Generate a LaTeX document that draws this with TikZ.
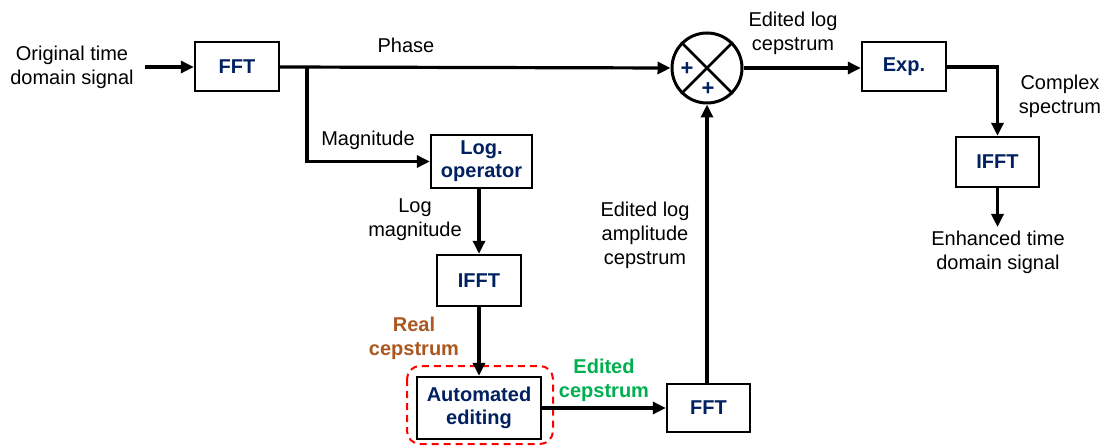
\documentclass[tikz,border=0pt]{standalone}
\usepackage{fontspec}
\setmainfont{Liberation Sans}
\usetikzlibrary{arrows.meta}
\definecolor{navy}{RGB}{0,32,96}
\definecolor{brownlbl}{RGB}{170,88,32}
\definecolor{greenlbl}{RGB}{0,176,80}
\tikzset{
  blk/.style={draw=black, line width=2.4pt, fill=white, inner sep=0pt,
    font=\fontsize{20}{23}\selectfont\bfseries, text=navy, align=center},
  lbl/.style={inner sep=0pt, align=center, font=\fontsize{20}{24}\selectfont},
  conn/.style={line width=3.2pt},
  arr/.style={conn, -{Triangle[length=13pt,width=12pt]}},
  plus/.style={text=navy, inner sep=0pt, font=\fontsize{22}{22}\selectfont\bfseries},
}
\begin{document}
\begin{tikzpicture}[x=1pt,y=-1pt]
\useasboundingbox (0,0) rectangle (1105,446);

% blocks
\node[blk, minimum width=84pt, minimum height=49pt] (fft1) at (237,66.5) {FFT};
\node[blk, minimum width=101pt, minimum height=53pt] (logop) at (481.5,161.5) {Log.\\operator};
\node[blk, minimum width=84pt, minimum height=51pt] (ifft1) at (479,280.5) {IFFT};
\node[blk, minimum width=124pt, minimum height=62pt] (auto) at (479,408) {Automated\\editing};
\node[blk, minimum width=83pt, minimum height=48pt] (fft2) at (708.5,408) {FFT};
\node[blk, minimum width=84pt, minimum height=49pt] (exp) at (904,66.5) {Exp.};
\node[blk, minimum width=83pt, minimum height=50pt] (ifft2) at (997.5,162) {IFFT};

% summing junction
\node[draw, circle, line width=3pt, minimum size=70pt, inner sep=0pt] (sum) at (707,68) {};
\draw[line width=2.6pt] (sum.north west) -- (sum.south east);
\draw[line width=2.6pt] (sum.north east) -- (sum.south west);
\node[plus] (plusa) at (687,69) {+};
\node[plus] (plusb) at (708,89) {+};

% highlighted editing stage
\draw[red, line width=2pt, dash pattern=on 7pt off 5pt, rounded corners=13pt]
  (407,366) rectangle (553,444);

% free ends
\coordinate (in) at (145,67);
\coordinate (split) at (307,67);
\coordinate (turn) at (997.5,67);
\coordinate (out) at (997.5,227);

% connectors
\draw[arr] (in) -- (fft1.west |- in);
\draw[arr] (fft1.east |- split) -- (sum.west);
\draw[arr] (split) |- (logop.west);
\draw[arr] (logop.south -| ifft1.north) -- (ifft1.north);
\draw[arr, line width=3.8pt] (ifft1.south) -- (auto.north);
\draw[arr] (auto.east) -- (fft2.west);
\draw[arr] (fft2.north -| sum.south) -- (sum.south);
\draw[arr] (sum.east) -- (exp.west |- sum.east);
\draw[arr] (exp.east |- turn) -| (ifft2.north);
\draw[arr] (ifft2.south) -- (out);

% labels
\node[lbl] (lorig) at (72,67) {Original time\\domain signal};
\node[lbl] (lphase) at (406,45) {Phase};
\node[lbl] (lmag) at (368,140) {Magnitude};
\node[lbl] (llogmag) at (415,220) {Log\\magnitude};
\node[lbl, text=brownlbl, font=\fontsize{20}{24}\selectfont\bfseries] (lreal) at (414,338) {Real\\cepstrum};
\node[lbl, text=greenlbl, font=\fontsize{20}{24}\selectfont\bfseries] (ledc) at (604,380) {Edited\\cepstrum};
\node[lbl] (lamp) at (645,235) {Edited log\\amplitude\\cepstrum};
\node[lbl] (lelc) at (793,33) {Edited log\\cepstrum};
\node[lbl] (lcplx) at (1060,96) {Complex\\spectrum};
\node[lbl] (lenh) at (998,252) {Enhanced time\\domain signal};
\end{tikzpicture}
\end{document}
